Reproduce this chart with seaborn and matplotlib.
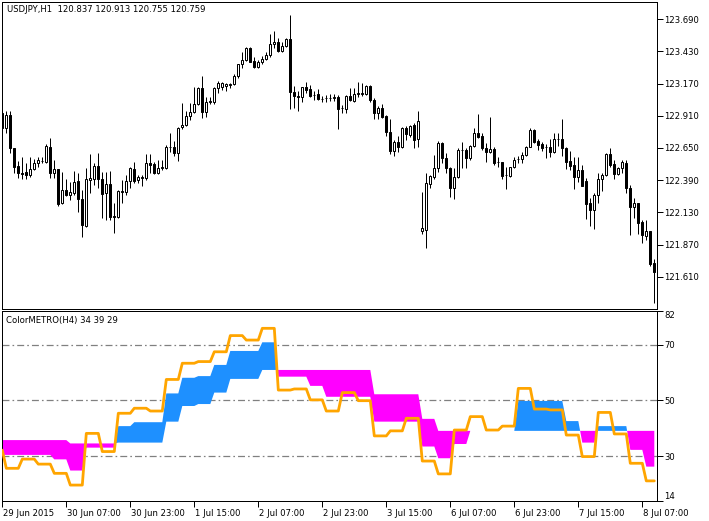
import numpy as np
import matplotlib
matplotlib.use('Agg')
import matplotlib.pyplot as plt
import matplotlib.transforms as mtransforms
import seaborn as sns

# USDJPY H1 candles, 29 Jun 2015 15:00 .. 8 Jul 2015 10:00
opens = [122.933, 122.812, 122.917, 122.650, 122.505, 122.448, 122.456, 122.432, 122.481, 122.529,
         122.545, 122.537, 122.658, 122.448, 122.481, 122.206, 122.311, 122.271, 122.287, 122.384,
         122.238, 122.020, 122.392, 122.400, 122.505, 122.400, 122.287, 122.359, 122.101, 122.093,
         122.295, 122.295, 122.384, 122.481, 122.392, 122.408, 122.408, 122.529, 122.521, 122.448,
         122.489, 122.489, 122.658, 122.658, 122.610, 122.820, 122.836, 122.909, 122.941, 123.006,
         123.135, 122.941, 123.022, 123.022, 123.135, 123.143, 123.151, 123.159, 123.167, 123.232,
         123.329, 123.361, 123.458, 123.353, 123.305, 123.345, 123.369, 123.402, 123.490, 123.507,
         123.434, 123.474, 123.531, 123.103, 123.070, 123.062, 123.143, 123.127, 123.078, 123.086,
         123.046, 123.054, 123.054, 123.054, 123.062, 122.973, 122.965, 123.070, 123.030, 123.086,
         123.086, 123.086, 123.151, 123.038, 122.933, 122.973, 122.909, 122.779, 122.626, 122.699,
         122.658, 122.812, 122.755, 122.836, 122.723, 121.980, 121.988, 122.359, 122.416, 122.489,
         122.691, 122.569, 122.489, 122.327, 122.416, 122.634, 122.634, 122.569, 122.666, 122.771,
         122.747, 122.650, 122.618, 122.642, 122.537, 122.537, 122.432, 122.424, 122.497, 122.561,
         122.561, 122.594, 122.658, 122.796, 122.707, 122.682, 122.658, 122.658, 122.618, 122.723,
         122.723, 122.650, 122.545, 122.513, 122.416, 122.472, 122.384, 122.206, 122.149, 122.271,
         122.400, 122.432, 122.602, 122.521, 122.440, 122.489, 122.529, 122.327, 122.174, 122.206,
         122.052, 121.939, 121.980, 121.721]
highs = [122.949, 122.949, 122.949, 122.650, 122.545, 122.577, 122.529, 122.577, 122.561, 122.577,
         122.577, 122.682, 122.731, 122.553, 122.481, 122.456, 122.400, 122.376, 122.464, 122.448,
         122.311, 122.489, 122.602, 122.529, 122.610, 122.456, 122.456, 122.464, 122.206, 122.311,
         122.392, 122.432, 122.497, 122.537, 122.432, 122.432, 122.602, 122.602, 122.537, 122.553,
         122.553, 122.674, 122.771, 122.707, 122.820, 123.014, 122.949, 123.014, 123.143, 123.143,
         123.232, 123.062, 123.062, 123.143, 123.192, 123.183, 123.175, 123.175, 123.248, 123.329,
         123.426, 123.466, 123.466, 123.385, 123.361, 123.394, 123.426, 123.571, 123.596, 123.539,
         123.507, 123.539, 123.725, 123.151, 123.111, 123.143, 123.183, 123.159, 123.111, 123.127,
         123.070, 123.078, 123.086, 123.086, 123.078, 122.998, 123.078, 123.135, 123.135, 123.183,
         123.175, 123.159, 123.159, 123.054, 122.990, 123.006, 122.917, 122.884, 122.715, 122.747,
         122.820, 122.828, 122.836, 122.852, 122.949, 122.295, 122.448, 122.432, 122.594, 122.707,
         122.699, 122.610, 122.497, 122.489, 122.650, 122.699, 122.650, 122.674, 122.812, 122.925,
         122.771, 122.691, 122.901, 122.658, 122.577, 122.537, 122.497, 122.497, 122.577, 122.586,
         122.618, 122.666, 122.812, 122.804, 122.723, 122.699, 122.682, 122.723, 122.771, 122.771,
         122.884, 122.658, 122.626, 122.577, 122.577, 122.513, 122.408, 122.247, 122.287, 122.448,
         122.448, 122.610, 122.650, 122.553, 122.497, 122.553, 122.553, 122.351, 122.247, 122.206,
         122.068, 122.068, 121.980, 121.753]
lows = [122.796, 122.771, 122.610, 122.448, 122.408, 122.400, 122.400, 122.416, 122.472, 122.497,
        122.529, 122.529, 122.408, 122.408, 122.182, 122.198, 122.263, 122.230, 122.271, 122.133,
        121.931, 122.012, 122.287, 122.351, 122.327, 122.085, 122.068, 122.068, 121.963, 122.085,
        122.206, 122.271, 122.327, 122.368, 122.368, 122.343, 122.392, 122.448, 122.440, 122.440,
        122.472, 122.481, 122.618, 122.586, 122.545, 122.804, 122.828, 122.876, 122.933, 122.998,
        122.893, 122.901, 123.006, 123.006, 123.095, 123.119, 123.111, 123.135, 123.159, 123.216,
        123.297, 123.353, 123.345, 123.297, 123.297, 123.329, 123.361, 123.385, 123.458, 123.426,
        123.426, 123.466, 122.965, 122.973, 122.949, 123.022, 123.095, 123.062, 123.038, 123.038,
        123.022, 123.022, 123.030, 123.030, 122.804, 122.933, 122.933, 123.030, 123.022, 123.062,
        123.070, 123.078, 123.022, 122.884, 122.884, 122.893, 122.747, 122.602, 122.586, 122.618,
        122.650, 122.715, 122.739, 122.650, 122.658, 121.955, 121.842, 122.327, 122.400, 122.456,
        122.529, 122.448, 122.255, 122.238, 122.408, 122.489, 122.489, 122.553, 122.658, 122.731,
        122.634, 122.537, 122.610, 122.513, 122.497, 122.400, 122.319, 122.416, 122.489, 122.529,
        122.529, 122.586, 122.658, 122.691, 122.634, 122.626, 122.569, 122.577, 122.610, 122.666,
        122.586, 122.481, 122.472, 122.319, 122.376, 122.343, 122.076, 122.020, 121.996, 122.206,
        122.303, 122.424, 122.497, 122.400, 122.432, 122.448, 122.287, 121.947, 122.085, 121.955,
        121.882, 121.907, 121.697, 121.398]
closes = [122.812, 122.917, 122.650, 122.497, 122.448, 122.440, 122.432, 122.481, 122.529, 122.553,
          122.545, 122.666, 122.448, 122.481, 122.198, 122.311, 122.271, 122.295, 122.376, 122.238,
          122.028, 122.400, 122.408, 122.505, 122.400, 122.279, 122.359, 122.093, 122.093, 122.303,
          122.303, 122.384, 122.489, 122.384, 122.416, 122.416, 122.529, 122.513, 122.448, 122.489,
          122.497, 122.658, 122.658, 122.610, 122.812, 122.836, 122.909, 122.941, 123.006, 123.135,
          122.941, 123.022, 123.030, 123.135, 123.175, 123.175, 123.167, 123.167, 123.232, 123.329,
          123.361, 123.458, 123.345, 123.305, 123.345, 123.369, 123.402, 123.490, 123.507, 123.434,
          123.474, 123.531, 123.103, 123.070, 123.062, 123.143, 123.119, 123.070, 123.078, 123.046,
          123.046, 123.054, 123.054, 123.062, 122.965, 122.973, 123.070, 123.038, 123.086, 123.095,
          123.095, 123.151, 123.038, 122.933, 122.973, 122.901, 122.779, 122.626, 122.699, 122.658,
          122.812, 122.763, 122.828, 122.715, 122.868, 122.004, 122.368, 122.424, 122.489, 122.691,
          122.569, 122.489, 122.327, 122.416, 122.634, 122.634, 122.569, 122.666, 122.771, 122.739,
          122.650, 122.618, 122.642, 122.529, 122.537, 122.424, 122.432, 122.497, 122.553, 122.561,
          122.594, 122.658, 122.796, 122.699, 122.674, 122.650, 122.658, 122.618, 122.723, 122.723,
          122.650, 122.537, 122.505, 122.416, 122.472, 122.343, 122.198, 122.149, 122.271, 122.400,
          122.432, 122.602, 122.513, 122.440, 122.489, 122.537, 122.327, 122.174, 122.206, 122.044,
          121.947, 121.980, 121.713, 121.648]

# ColorMETRO(H4) values, one per H4 bar; h1_per_h4 = how many H1 bars each covers
h1_per_h4 = [1] + [4] * 40 + [3]
fast_step = [30.5, 30.5, 30.5, 30.5, 28.9, 24.9, 33.1, 33.1, 40.8, 42.2,
             42.2, 52.5, 58.1, 58.7, 62.7, 67.7, 67.7, 70.8, 58.5, 58.5,
             55.2, 51.3, 51.3, 51.3, 42.4, 42.4, 42.4, 33.5, 29.3, 34.4,
             39.1, 39.1, 39.1, 49.8, 49.8, 49.8, 42.6, 34.9, 40.8, 40.8,
             32.3, 26.3]
slow_step = [35.8, 35.8, 35.8, 35.8, 35.8, 34.6, 34.6, 34.6, 34.9, 34.9,
             34.9, 42.4, 48.0, 48.7, 52.8, 57.7, 57.7, 60.9, 60.9, 60.9,
             60.9, 60.9, 60.9, 60.9, 52.2, 52.2, 52.2, 43.4, 39.1, 39.1,
             39.1, 39.1, 39.1, 39.1, 39.1, 39.1, 39.1, 39.1, 39.1, 39.1,
             39.1, 39.1]
rsi_line = [32.2, 25.7, 29.0, 27.2, 23.9, 19.7, 38.2, 31.7, 45.4, 47.2,
            46.2, 57.5, 63.3, 63.9, 67.4, 73.2, 71.6, 75.8, 53.7, 54.1,
            50.2, 46.2, 52.8, 49.9, 37.3, 39.1, 43.6, 28.3, 23.7, 39.4,
            44.2, 39.4, 40.8, 54.3, 46.9, 46.6, 37.6, 29.9, 45.7, 38.0,
            27.5, 21.2]

price_ticks = [123.690, 123.430, 123.170, 122.910, 122.650, 122.390, 122.130, 121.870, 121.610]
level_ticks = [14, 30, 50, 70, 82]
level_lines = [30, 50, 70]
date_pos = [0, 16, 32, 48, 64, 80, 96, 112, 128, 144, 160]
date_labels = ['29 Jun 2015', '30 Jun 07:00', '30 Jun 23:00', '1 Jul 15:00', '2 Jul 07:00',
               '2 Jul 23:00', '3 Jul 15:00', '6 Jul 07:00', '6 Jul 23:00', '7 Jul 15:00',
               '8 Jul 07:00']

sns.set_theme(style='white')
plt.rcParams['font.family'] = ['DejaVu Sans']
plt.rcParams['lines.scale_dashes'] = False
FS = 6.1
PX = 0.72

W, H = 709, 521
fig = plt.figure(figsize=(W / 100, H / 100), dpi=100)
fig.patch.set_facecolor('white')
ax1 = fig.add_axes([2 / W, (H - 309) / H, 654.7 / W, 307.3 / H])
ax2 = fig.add_axes([2 / W, (H - 501) / H, 654.7 / W, 190 / H])

x = np.arange(len(opens))
o = np.array(opens); c = np.array(closes)
up = c > o

# candles
ax1.vlines(x, lows, highs, color='black', linewidth=PX, zorder=2)
ax1.bar(x, c - o, bottom=o, width=0.5, color=np.where(up, 'white', 'black'),
        edgecolor='black', linewidth=PX, zorder=3)
ax1.set_ylim(121.349, 123.832)
ax1.set_xlim(-0.075, 163.6)
ax1.yaxis.tick_right()
ax1.set_yticks(price_ticks)
ax1.set_yticklabels(['%.3f' % p for p in price_ticks])
ax1.set_xticks([])
ax1.tick_params(axis='y', right=True, direction='out', length=4, width=PX,
                pad=1.5, labelsize=FS, colors='black')

# indicator
fast = np.repeat(fast_step, h1_per_h4)
slow = np.repeat(slow_step, h1_per_h4)
rsi = np.repeat(rsi_line, h1_per_h4)
for lv in level_lines:
    ax2.axhline(lv, color='#808080', linewidth=0.9, linestyle=(0, (5, 2.2, 1.2, 2.2)), zorder=1)
ax2.fill_between(x, fast, slow, where=fast >= slow, interpolate=True,
                 color='#1E90FF', linewidth=0, zorder=2)
ax2.fill_between(x, fast, slow, where=fast <= slow, interpolate=True,
                 color='#FF00FF', linewidth=0, zorder=2)
sns.lineplot(x=x, y=rsi, ax=ax2, color='#FFA500', linewidth=2.0, zorder=3)
ax2.set_ylim(14, 82)
ax2.set_xlim(-0.075, 163.6)
ax2.yaxis.tick_right()
ax2.set_yticks(level_ticks)
ax2.set_yticklabels([str(v) for v in level_ticks])
ax2.tick_params(axis='y', right=True, direction='out', length=4, width=PX,
                pad=1.5, labelsize=FS, colors='black')
ylabs = ax2.get_yticklabels()
ylabs[0].set_va('bottom')
ylabs[-1].set_va('top')
ax2.set_xticks(date_pos)
ax2.set_xticklabels(date_labels)
ax2.tick_params(axis='x', bottom=True, direction='out', length=4, width=PX,
                pad=2, labelsize=FS, colors='black')
shift = mtransforms.ScaledTranslation(1 / 100, 0, fig.dpi_scale_trans)
for lab in ax2.get_xticklabels():
    lab.set_ha('left')
    lab.set_transform(lab.get_transform() + shift)
ax2.set_xlabel('')
ax2.set_ylabel('')

for ax in (ax1, ax2):
    ax.set_facecolor('white')
    for sp in ax.spines.values():
        sp.set_visible(True)
        sp.set_color('black')
        sp.set_linewidth(PX)

fig.text(7 / W, 1 - 10 / H, 'USDJPY,H1  120.837 120.913 120.755 120.759',
         ha='left', va='center', fontsize=FS, color='black')
fig.text(6 / W, 1 - 320.5 / H, 'ColorMETRO(H4) 34 39 29',
         ha='left', va='center', fontsize=FS, color='black')

fig.savefig('out.png', dpi=100, facecolor='white')
